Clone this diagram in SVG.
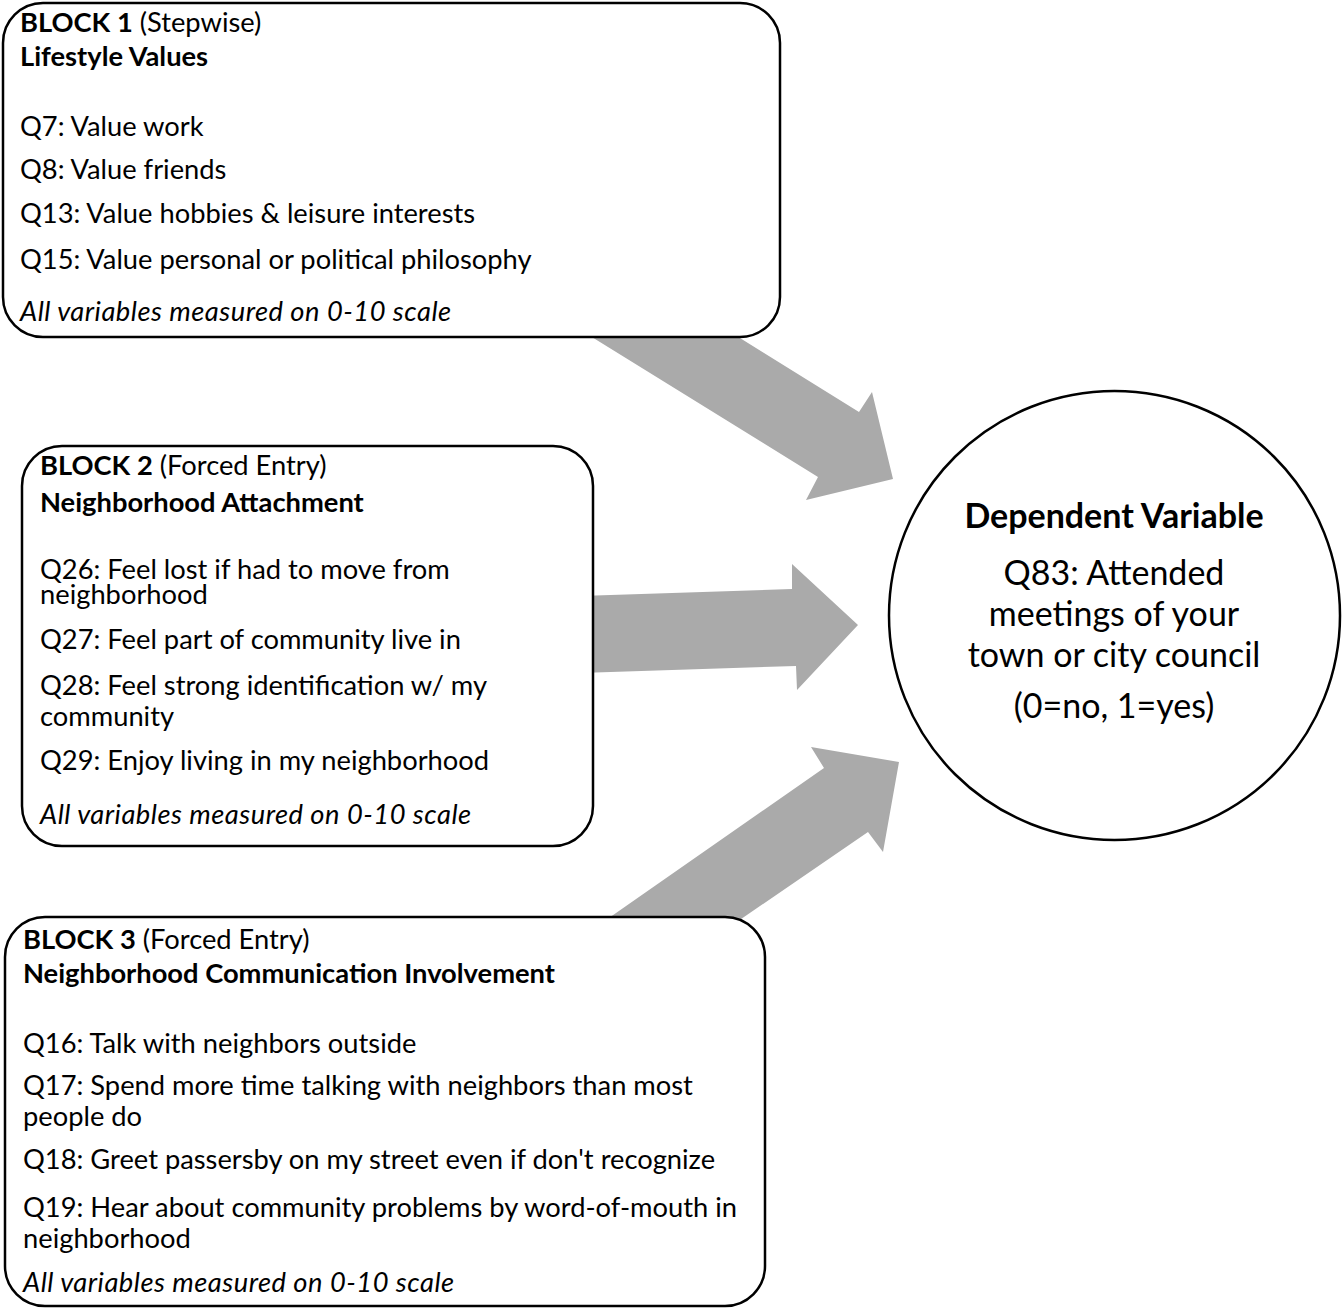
<svg xmlns="http://www.w3.org/2000/svg" width="1344" height="1311" viewBox="0 0 1344 1311">
<style>
.box{fill:#fff;stroke:#000;stroke-width:2.5}
.arrow{fill:#aaaaaa;stroke:none}
text{font-family:Lato,"Liberation Sans",sans-serif;fill:#000}
.t{font-size:27.3px}
.b{font-weight:bold}
.i{font-style:italic;letter-spacing:0.5px}
.c{font-size:34px;text-anchor:middle}
</style>
<g id="connectors">
<polygon class="arrow" points="679,300 859,412 872,392 893,479 806,500 818,477 532,300"/>
<polygon class="arrow" points="580,596 792,589 792,564 858,625 797,690 796,666 580,673"/>
<polygon class="arrow" points="563,950 824,768 811,747 899,762 883,852 868,832 696,950"/>
</g>
<g id="block1">
<rect class="box" x="3" y="3" width="777" height="334" rx="40" ry="40"/>
<text class="t" x="20" y="32"><tspan class="b">BLOCK 1</tspan> (Stepwise)</text>
<text class="t b" x="20" y="66">Lifestyle Values</text>
<text class="t" x="20" y="136">Q7: Value work</text>
<text class="t" x="20" y="179">Q8: Value friends</text>
<text class="t" x="20" y="223">Q13: Value hobbies &amp; leisure interests</text>
<text class="t" x="20" y="269">Q15: Value personal or political philosophy</text>
<text class="t i" x="20" y="321">All variables measured on 0-10 scale</text>
</g>
<g id="block2">
<rect class="box" x="22" y="446" width="571" height="400" rx="40" ry="40"/>
<text class="t" x="40" y="475"><tspan class="b">BLOCK 2</tspan> (Forced Entry)</text>
<text class="t b" x="40" y="512">Neighborhood Attachment</text>
<text class="t" x="40" y="579">Q26: Feel lost if had to move from</text>
<text class="t" x="40" y="604">neighborhood</text>
<text class="t" x="40" y="649">Q27: Feel part of community live in</text>
<text class="t" x="40" y="695">Q28: Feel strong identification w/ my</text>
<text class="t" x="40" y="726">community</text>
<text class="t" x="40" y="770">Q29: Enjoy living in my neighborhood</text>
<text class="t i" x="40" y="824">All variables measured on 0-10 scale</text>
</g>
<g id="block3">
<rect class="box" x="5" y="917" width="760" height="389" rx="40" ry="40"/>
<text class="t" x="23" y="949"><tspan class="b">BLOCK 3</tspan> (Forced Entry)</text>
<text class="t b" x="23" y="983">Neighborhood Communication Involvement</text>
<text class="t" x="23" y="1053">Q16: Talk with neighbors outside</text>
<text class="t" x="23" y="1095">Q17: Spend more time talking with neighbors than most</text>
<text class="t" x="23" y="1126">people do</text>
<text class="t" x="23" y="1169">Q18: Greet passersby on my street even if don't recognize</text>
<text class="t" x="23" y="1217">Q19: Hear about community problems by word-of-mouth in</text>
<text class="t" x="23" y="1248">neighborhood</text>
<text class="t i" x="23" y="1292">All variables measured on 0-10 scale</text>
</g>
<g id="dependent">
<ellipse cx="1114.5" cy="615.5" rx="225.5" ry="224.5" fill="#fff" stroke="#000" stroke-width="2.5"/>
<text class="c b" x="1114" y="528">Dependent Variable</text>
<text class="c" x="1114" y="585">Q83: Attended</text>
<text class="c" x="1114" y="626">meetings of your</text>
<text class="c" x="1114" y="667">town or city council</text>
<text class="c" x="1114" y="718">(0=no, 1=yes)</text>
</g>
</svg>
